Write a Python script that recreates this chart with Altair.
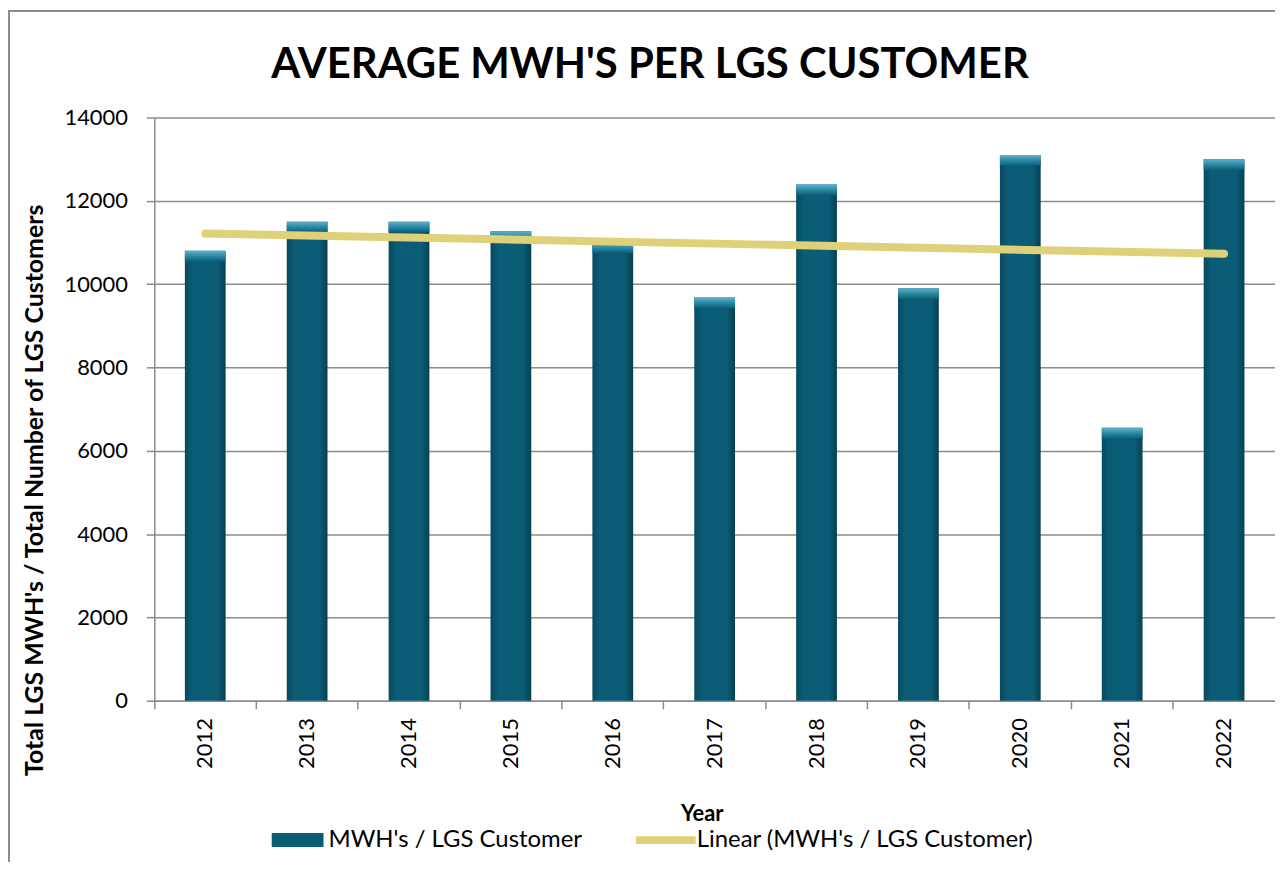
import altair as alt
import pandas as pd

years = [2012, 2013, 2014, 2015, 2016, 2017, 2018, 2019, 2020, 2021, 2022]
values = [10800, 11500, 11500, 11270, 11000, 9680, 12390, 9900, 13100, 6550, 13000]
series_names = ["MWH's / LGS Customer", "Linear (MWH's / LGS Customer)"]
y_ticks = [0, 2000, 4000, 6000, 8000, 10000, 12000, 14000]

df = pd.DataFrame({"year": years, "value": values})
legend_df = pd.DataFrame({"series": series_names, "value": [None, None]})
frame_df = pd.DataFrame({"frame": [0]})

W, H = 1126, 586
FONT = "Lato"
GRID = "#8c8c8c"

bar_fill = alt.Gradient(
    gradient="linear", x1=0, x2=1, y1=0, y2=0,
    stops=[alt.GradientStop(color="#084a60", offset=0),
           alt.GradientStop(color="#0b5d76", offset=0.2),
           alt.GradientStop(color="#0b5d76", offset=0.8),
           alt.GradientStop(color="#063f52", offset=1)])
cap_fill = alt.Gradient(
    gradient="linear", x1=0, x2=0, y1=0, y2=1,
    stops=[alt.GradientStop(color="#5fb2ca", offset=0),
           alt.GradientStop(color="#2a88a2", offset=0.5),
           alt.GradientStop(color="#0b5d76", offset=1)])

band_scale = alt.Scale(paddingInner=0, paddingOuter=0)
x_axis = alt.Axis(
    title="Year", titleFont=FONT, titleFontSize=22, titleFontWeight="bold",
    titleColor="black", titleX=550, titleY=120, titleBaseline="alphabetic",
    titleAlign="center",
    bandPosition=0, labelOffset=0, labelAngle=270,
    labelFont=FONT, labelFontSize=22, labelColor="black", labelPadding=9,
    tickSize=8, tickColor=GRID, tickWidth=1.5,
    domainColor=GRID, domainWidth=1.5, grid=False,
)
y_scale = alt.Scale(domain=[0, 14000], nice=False)
y_axis = alt.Axis(
    values=y_ticks, format="d",
    title="Total LGS MWH's / Total Number of LGS Customers",
    titleFont=FONT, titleFontSize=25, titleFontWeight="bold", titleColor="black",
    titleX=-112, titleY=374, titleBaseline="alphabetic", titleAlign="center",
    labelFont=FONT, labelFontSize=22, labelColor="black", labelPadding=19,
    tickSize=8, tickColor=GRID, tickWidth=1.5,
    domainColor=GRID, domainWidth=1.5,
    grid=True, gridColor=GRID, gridWidth=1.5,
)

def yenc():
    return alt.Y("value:Q", scale=y_scale, axis=y_axis)

# decorative chart-area border (like the spreadsheet chart frame)
frame = alt.Chart(frame_df).mark_rect(
    fillOpacity=0, stroke=GRID, strokeWidth=2
).encode(
    x=alt.value(-146), x2=alt.value(1300), y=alt.value(-107), y2=alt.value(900)
)

bars = alt.Chart(df).mark_bar(
    width=alt.RelativeBandSize(0.4), color=bar_fill
).encode(x=alt.X("year:O", scale=band_scale, axis=x_axis), y=yenc())

caps = alt.Chart(df).transform_calculate(
    cap_bottom="datum.value - 260"
).mark_bar(
    width=alt.RelativeBandSize(0.4), color=cap_fill
).encode(
    x=alt.X("year:O", scale=band_scale, axis=None),
    y=yenc(),
    y2="cap_bottom:Q",
)

trend = alt.Chart(df).transform_regression(
    "year", "value", method="linear", extent=[2012, 2022]
).mark_line(
    color="#dfd07a", strokeWidth=8, strokeCap="round"
).encode(
    x=alt.X("year:Q", scale=alt.Scale(domain=[2011.5, 2022.5], nice=False, zero=False), axis=None),
    y=yenc(),
)

leg = alt.Legend(
    title=None, orient="none", direction="horizontal",
    legendX=114, legendY=696,
    labelFont=FONT, labelFontSize=24, labelColor="black", labelLimit=500,
    symbolSize=3600, symbolStrokeWidth=0, labelOffset=1,
    columnPadding=54,
)
legend_layer = alt.Chart(legend_df).mark_point(filled=True, opacity=1).encode(
    y=yenc(),
    color=alt.Color(
        "series:N",
        scale=alt.Scale(domain=series_names, range=["#0b5d76", "#dfd07a"]),
        legend=leg,
    ),
    shape=alt.Shape(
        "series:N",
        scale=alt.Scale(
            domain=series_names,
            range=["M-0.867,-0.233H0.867V0.233H-0.867Z",
                   "M-1,-0.13H1V0.13H-1Z"],
        ),
        legend=leg,
    ),
)

chart = alt.layer(frame, bars, caps, trend, legend_layer).resolve_scale(
    x="independent"
).properties(
    width=W, height=H,
    autosize=alt.AutoSizeParams(type="none"),
    padding={"left": 147, "top": 108, "right": 0, "bottom": 160},
    background="white",
    title=alt.TitleParams(
        "AVERAGE MWH'S PER LGS CUSTOMER", font=FONT, fontSize=42,
        fontWeight="bold", color="black", anchor="middle", dx=-65,
        baseline="alphabetic", offset=38, dy=148,
    ),
).configure_view(stroke=None)

chart.save("out.html", embed_options={"renderer": "svg", "actions": False})
